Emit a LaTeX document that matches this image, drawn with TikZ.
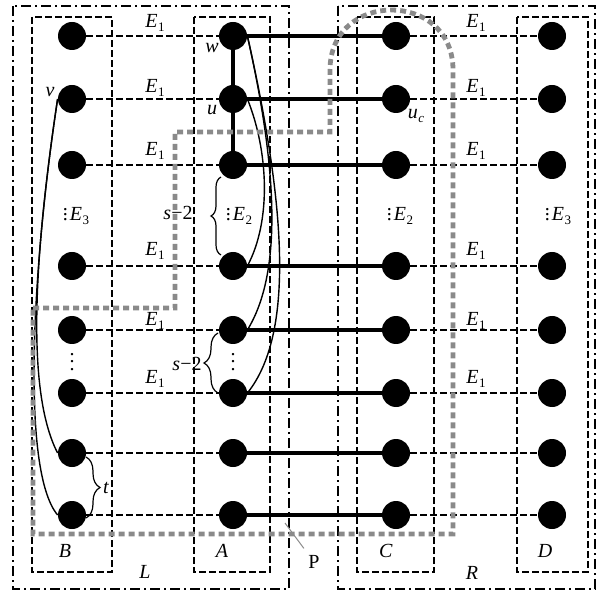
\documentclass[tikz,border=0pt]{standalone}
\usepackage{fontspec}
\setmainfont{Liberation Serif}
\usetikzlibrary{decorations.pathreplacing}
\definecolor{ZoneGray}{HTML}{8A8A8A}
\newcommand{\Esub}[2]{\textit{#1}\kern0.3pt\raisebox{-2pt}{\fontsize{6.5}{7}\selectfont #2}}
\newcommand{\smdots}{\vbox{\baselineskip2.6pt\lineskiplimit0pt\hbox{.}\hbox{.}\hbox{.}}\kern1pt}
\newcommand{\tallvdots}{\vbox{\baselineskip3.6pt\lineskiplimit0pt\hbox{.}\hbox{.}\hbox{.}}}

\begin{document}
\begin{tikzpicture}[x=0.5pt, y=-0.5pt, font=\fontsize{10}{12}\selectfont,
    vtx/.style={circle, fill=black, inner sep=0pt, minimum size=14pt},
    pairline/.style={line width=0.65pt, dash pattern=on 3.5pt off 1.5pt},
    boxline/.style={line width=0.65pt, dash pattern=on 3.5pt off 1.5pt},
    part/.style={line width=0.8pt, dash pattern=on 5pt off 2pt on 1pt off 2pt},
    match/.style={line width=2pt},
    route/.style={line width=0.7pt},
    zone/.style={color=ZoneGray, line width=2.4pt, dash pattern=on 3pt off 2pt},
    brc/.style={decorate, decoration={brace, amplitude=#1}, line width=0.6pt},
    brc/.default=6pt]
    \useasboundingbox (0,0) rectangle (598,592);

    \draw[part] (13,6) rectangle (289,589);
    \draw[part] (338,6) rectangle (595,589);
    \draw[boxline] (32,17) rectangle (112,572);
    \draw[boxline] (194,17) rectangle (270,572);
    \draw[boxline] (357,17) rectangle (434,572);
    \draw[boxline] (517,17) rectangle (588,572);

    \foreach \y [count=\i] in {36,99,165,266,330,393,453,515} {
        \node[vtx] (b\i) at (72,\y) {};
        \node[vtx] (a\i) at (233,\y) {};
        \node[vtx] (c\i) at (396,\y) {};
        \node[vtx] (d\i) at (552,\y) {};
        \draw[pairline] (b\i) -- (a\i);
        \draw[pairline] (c\i) -- (d\i);
        \draw[match] (a\i) -- (c\i);
    }
    \draw[match] (a1) -- (a2) -- (a3);

    \draw[route] (b2.west) .. controls (35,250) and (25,390) .. (b7.west);
    \draw[route] (b2.west) .. controls (33,260) and (20,470) .. (b8.west);
    \draw[route] (a1.east) .. controls (282,190) and (298,330) .. (a6.east);
    \draw[route] (a1.east) .. controls (282,190) and (278,280) .. (a5.east);
    \draw[route] (a2.east) .. controls (268,150) and (272,220) .. (a4.east);

    \draw[zone] (33,308) -- (175,308) -- (175,132) -- (330,132) -- (330,70)
        .. controls (330,-10) and (453,-10) .. (453,70) -- (453,534) -- (33,534) -- cycle;

    \foreach \y [count=\i] in {23,88,151,251,321,379} {
        \node (el\i) at (155,\y) {\Esub{E}{1}};
        \node (er\i) at (476,\y) {\Esub{E}{1}};
    }
    \node (mb) at (76,216) {\smdots\Esub{E}{3}};
    \node (ma) at (239,216) {\smdots\Esub{E}{2}};
    \node (mc) at (400,216) {\smdots\Esub{E}{2}};
    \node (md) at (558,216) {\smdots\Esub{E}{3}};
    \node (db) at (72,362) {\tallvdots};
    \node (da) at (233,362) {\tallvdots};

    \draw[brc=5pt] (221,255) -- (221,177);
    \node (s1) at (178,213) {\textit{s}−2};
    \draw[brc=7pt] (218,393) -- (218,333);
    \node (s2) at (187,364) {\textit{s}−2};
    \draw[brc=7pt] (86,457) -- (86,518);
    \node (tl) at (106,488) {\textit{t}};

    \node (wl) at (212,48) {\textit{w}};
    \node (ul) at (212,110) {\textit{u}};
    \node (vl) at (50,92) {\textit{v}};
    \node (ucl) at (416,116) {\Esub{u}{\textit{c}}};

    \node (lb) at (65,551) {\textit{B}};
    \node (la) at (222,551) {\textit{A}};
    \node (lc) at (386,551) {\textit{C}};
    \node (ld) at (545,551) {\textit{D}};
    \node (ll) at (145,572) {\textit{L}};
    \node (lr) at (472,573) {\textit{R}};
    \node (pl) at (314,562) {P};
    \coordinate (ptip) at (285,523);
    \draw[ZoneGray, line width=0.5pt] (ptip) -- (pl);
\end{tikzpicture}
\end{document}
